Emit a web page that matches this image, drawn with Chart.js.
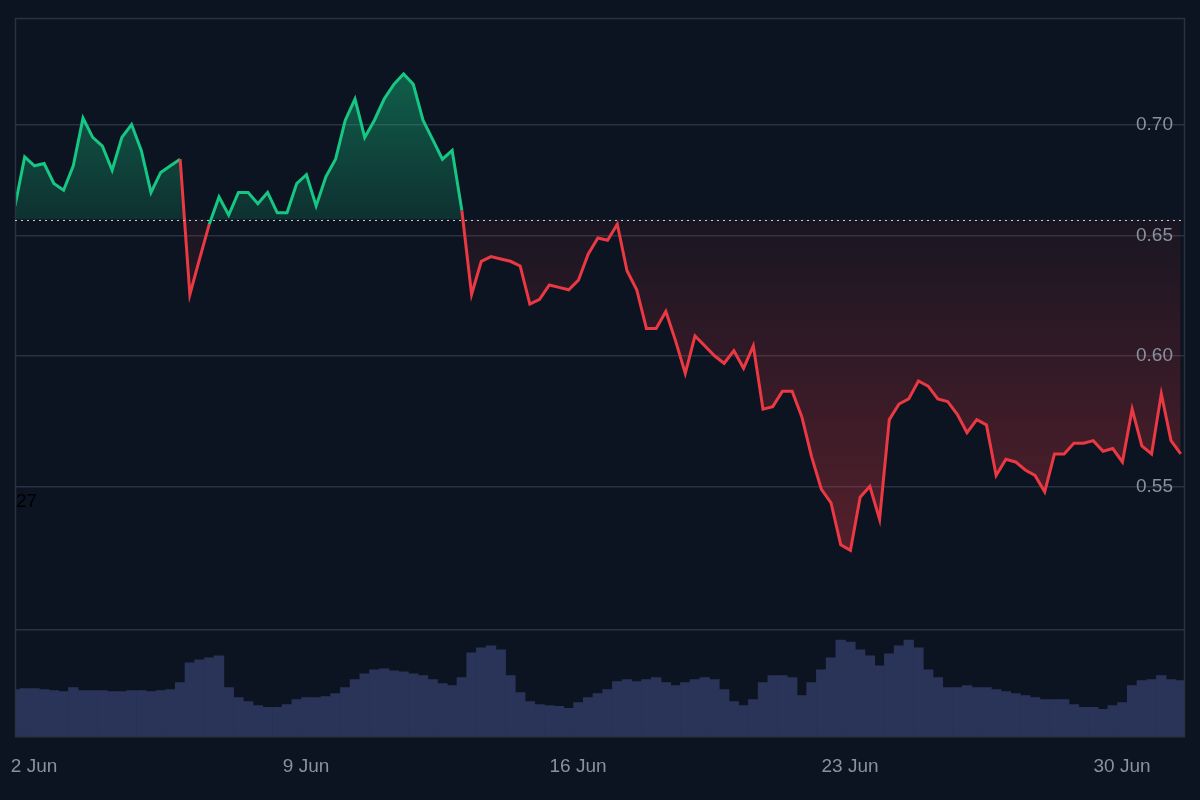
<!DOCTYPE html>
<html lang="en">
<head>
<meta charset="UTF-8">
<title>Price chart</title>
<script src="https://cdn.jsdelivr.net/npm/chart.js"></script>
<style>
  body { margin: 0; background: #0d1421; }
  #wrap { width: 1200px; height: 800px; }
</style>
</head>
<body>
<div id="wrap"><canvas id="priceChart" width="1200" height="800"></canvas></div>
<script>
// time in days of June, one point every 6 hours
const startDay = 1.51;
const stepDays = 0.25;
const prices = [
  0.663, 0.685, 0.681, 0.682, 0.673, 0.670, 0.681, 0.703, 0.694, 0.690,
  0.679, 0.694, 0.700, 0.688, 0.669, 0.678, 0.681, 0.684, 0.625, 0.640,
  0.655, 0.667, 0.659, 0.669, 0.669, 0.664, 0.669, 0.660, 0.660, 0.673,
  0.677, 0.663, 0.676, 0.684, 0.702, 0.712, 0.694, 0.702, 0.712, 0.719,
  0.724, 0.719, 0.702, 0.693, 0.684, 0.688, 0.661, 0.625, 0.639, 0.641,
  0.640, 0.639, 0.637, 0.621, 0.623, 0.629, 0.628, 0.627, 0.631, 0.642,
  0.649, 0.648, 0.655, 0.635, 0.627, 0.611, 0.611, 0.618, 0.606, 0.593,
  0.608, 0.604, 0.600, 0.597, 0.602, 0.595, 0.604, 0.579, 0.580, 0.586,
  0.586, 0.576, 0.561, 0.549, 0.544, 0.529, 0.527, 0.546, 0.550, 0.538,
  0.575, 0.581, 0.583, 0.590, 0.588, 0.583, 0.582, 0.577, 0.570, 0.575,
  0.573, 0.554, 0.560, 0.559, 0.556, 0.554, 0.548, 0.562, 0.562, 0.566,
  0.566, 0.567, 0.563, 0.564, 0.559, 0.579, 0.565, 0.562, 0.585, 0.567,
  0.562
];
const volumes = [
  48, 49, 49, 48, 47, 46, 50, 47, 47, 47,
  46, 46, 47, 47, 46, 47, 48, 55, 75, 78,
  80, 82, 50, 40, 36, 32, 30, 30, 33, 38,
  40, 40, 41, 44, 50, 58, 64, 68, 69, 67,
  66, 64, 62, 58, 54, 52, 60, 85, 90, 92,
  88, 62, 45, 36, 33, 32, 31, 29, 35, 40,
  44, 48, 56, 58, 56, 58, 60, 55, 52, 55,
  58, 60, 58, 48, 36, 32, 38, 55, 62, 62,
  60, 42, 55, 68, 80, 98, 96, 88, 82, 72,
  84, 92, 98, 90, 68, 60, 50, 50, 52, 50,
  50, 48, 46, 44, 42, 40, 38, 38, 38, 33,
  30, 30, 28, 32, 35, 52, 57, 58, 62, 58,
  57
];
const baseline = 0.657;
const priceTicks = [0.55, 0.60, 0.65, 0.70];
const dayTicks = [2, 9, 16, 23, 30];
const sideLabel = '27';

const GREEN = '#16c784';
const RED = '#ea3943';
const GRID = '#2a3140';
const TEXT = '#8a919e';

const priceData = prices.map((v, i) => ({ x: startDay + i * stepDays, y: v }));
const volumeData = volumes.map((v, i) => ({ x: startDay + i * stepDays, y: v }));

const overlay = {
    id: 'overlay',
    afterDatasetsDraw(chart) {
        const { ctx, chartArea: a, scales } = chart;
        ctx.save();
        // frame
        ctx.strokeStyle = GRID;
        ctx.lineWidth = 1.5;
        ctx.strokeRect(a.left + 0.5, a.top + 0.5, a.width - 1, a.height - 1);
        // baseline
        const yb = Math.round(scales.y.getPixelForValue(baseline)) + 0.5;
        ctx.strokeStyle = '#c9ccd3';
        ctx.lineWidth = 1;
        ctx.setLineDash([2, 4]);
        ctx.beginPath();
        ctx.moveTo(a.left, yb);
        ctx.lineTo(a.right, yb);
        ctx.stroke();
        ctx.setLineDash([]);
        // price labels inside the plot
        ctx.font = '19px "Liberation Sans", Arial, sans-serif';
        ctx.fillStyle = TEXT;
        ctx.textAlign = 'right';
        ctx.textBaseline = 'middle';
        priceTicks.forEach(t => {
            ctx.fillText(t.toFixed(2), a.right - 12, scales.y.getPixelForValue(t));
        });
        ctx.fillStyle = '#000000';
        ctx.textAlign = 'left';
        ctx.fillText(sideLabel, a.left + 1, scales.y.getPixelForValue(0.5445));
        ctx.restore();
    }
};

const ctx = document.getElementById('priceChart').getContext('2d');
const chart = new Chart(ctx, {
    data: {
        datasets: [{
            type: 'line',
            data: priceData,
            yAxisID: 'y',
            borderWidth: 3,
            pointRadius: 0,
            tension: 0,
            borderColor: GREEN,
            segment: {
                borderColor: c => ((c.p0.parsed.y + c.p1.parsed.y) / 2 >= baseline ? GREEN : RED)
            },
            fill: { target: { value: baseline }, above: 'rgba(22,199,132,0.25)', below: 'rgba(234,57,67,0.12)' },
            order: 1
        }, {
            type: 'bar',
            data: volumeData,
            yAxisID: 'yv',
            backgroundColor: '#2a3458',
            borderWidth: 0,
            barPercentage: 1,
            categoryPercentage: 1,
            order: 2
        }]
    },
    options: {
        responsive: false,
        animation: false,
        layout: { padding: { left: 15, right: 15, top: 18, bottom: 4 } },
        plugins: { legend: { display: false }, tooltip: { enabled: false } },
        scales: {
            x: {
                type: 'linear',
                offset: false,
                min: startDay,
                max: 31.62,
                afterBuildTicks: s => { s.ticks = dayTicks.map(v => ({ value: v })); },
                afterFit: s => { s.paddingLeft = 0; s.paddingRight = 0; },
                ticks: {
                    color: TEXT,
                    font: { size: 19, family: '"Liberation Sans", Arial, sans-serif' },
                    padding: 18,
                    maxRotation: 0,
                    autoSkip: false,
                    callback: v => v + ' Jun'
                },
                grid: { display: false, drawTicks: false },
                border: { display: false }
            },
            y: {
                type: 'logarithmic',
                min: 0.4653,
                max: 0.7515,
                afterBuildTicks: s => { s.ticks = [0.5].concat(priceTicks).map(v => ({ value: v })); },
                ticks: { display: false },
                grid: { color: GRID, lineWidth: 1.5, drawTicks: false },
                border: { display: false }
            },
            yv: {
                type: 'linear',
                display: false,
                min: 0,
                max: 725
            }
        }
    },
    plugins: [overlay]
});

// gradients need the laid-out scales
const yBase = chart.scales.y.getPixelForValue(baseline);
const gUp = ctx.createLinearGradient(0, chart.scales.y.getPixelForValue(0.724), 0, yBase);
gUp.addColorStop(0, 'rgba(22,199,132,0.42)');
gUp.addColorStop(1, 'rgba(22,199,132,0.16)');
const gDown = ctx.createLinearGradient(0, yBase, 0, chart.scales.y.getPixelForValue(0.527));
gDown.addColorStop(0, 'rgba(234,57,67,0.06)');
gDown.addColorStop(1, 'rgba(234,57,67,0.32)');
chart.data.datasets[0].fill = { target: { value: baseline }, above: gUp, below: gDown };
chart.update();
</script>
</body>
</html>
